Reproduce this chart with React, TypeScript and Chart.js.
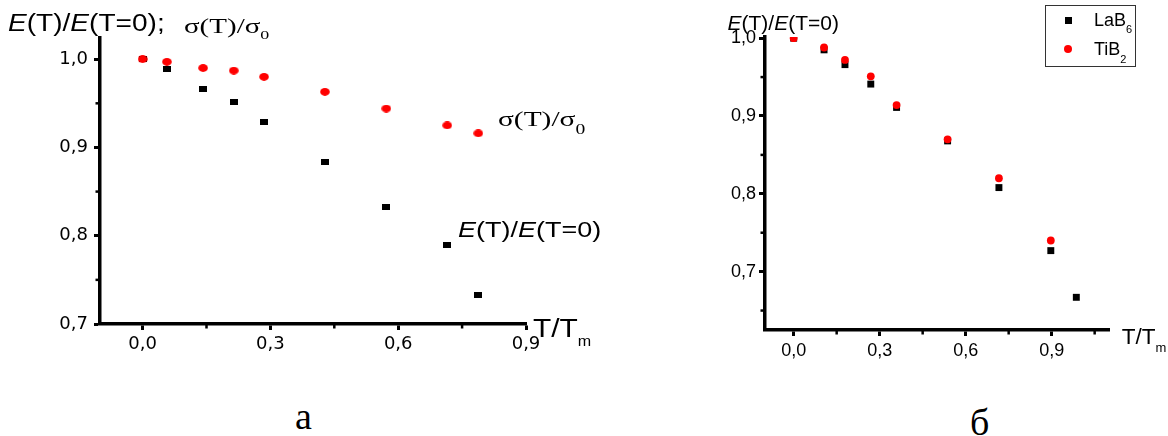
import React, { useEffect, useRef } from "react";
import { Chart, registerables } from "chart.js";

Chart.register(...registerables);

// ---------- Panel (а) data ----------
const tA = [0, 0.057, 0.142, 0.214, 0.285, 0.428, 0.572, 0.715, 0.788];
const sigmaA = [1.0, 0.997, 0.99, 0.987, 0.98, 0.963, 0.944, 0.925, 0.916];
const elastA = [1.0, 0.989, 0.966, 0.951, 0.929, 0.883, 0.833, 0.79, 0.733];
const xTicksA = [0, 0.3, 0.6, 0.9];
const xMinorA = [0.15, 0.45, 0.75];
const yTicksA = [0.7, 0.8, 0.9, 1.0];
const yMinorA = [0.75, 0.85, 0.95];

// ---------- Panel (б) data ----------
const tLaB6 = [0, 0.106, 0.179, 0.269, 0.359, 0.537, 0.716, 0.897, 0.986];
const eLaB6 = [1.0, 0.985, 0.966, 0.941, 0.911, 0.868, 0.808, 0.727, 0.667];
const tTiB2 = [0, 0.106, 0.179, 0.269, 0.359, 0.537, 0.716, 0.897];
const eTiB2 = [1.0, 0.988, 0.972, 0.951, 0.914, 0.87, 0.82, 0.74];
const xTicksB = [0, 0.3, 0.6, 0.9];
const xMinorB = [0.15, 0.45, 0.75, 1.05];
const yTicksB = [0.7, 0.8, 0.9, 1.0];
const yMinorB = [0.65, 0.75, 0.85, 0.95];

const SANS = '"Liberation Sans", Arial, sans-serif';
const SERIF = '"Liberation Serif", "Times New Roman", serif';
const RED = "#ff0000";

const fmt = (v: any) => Number(v).toFixed(1).replace(".", ",");

function pts(xs: number[], ys: number[]) {
  return xs.map((x, i) => ({ x, y: ys[i] }));
}

function minorPlugin(xs: number[], ys: number[]) {
  return {
    id: "minorTicks",
    afterDraw(chart: any) {
      const ctx = chart.ctx;
      const a = chart.chartArea;
      const sx = chart.scales.x;
      const sy = chart.scales.y;
      ctx.save();
      ctx.strokeStyle = "#000";
      ctx.lineWidth = 2.5;
      xs.forEach((v) => {
        const px = sx.getPixelForValue(v);
        ctx.beginPath();
        ctx.moveTo(px, a.bottom);
        ctx.lineTo(px, a.bottom + 4.5);
        ctx.stroke();
      });
      ys.forEach((v) => {
        const py = sy.getPixelForValue(v);
        ctx.beginPath();
        ctx.moveTo(a.left, py);
        ctx.lineTo(a.left - 4.5, py);
        ctx.stroke();
      });
      ctx.restore();
    },
  };
}

function makeImg(w: number, h: number, draw: (c: CanvasRenderingContext2D) => void) {
  const c = document.createElement("canvas");
  c.width = w;
  c.height = h;
  const g = c.getContext("2d")!;
  draw(g);
  return c;
}

function axis(min: number, max: number, ticks: number[], fit: (s: any) => void, fontFamily: string, fontSize: number, padding: number) {
  return {
    type: "linear" as const,
    min,
    max,
    afterBuildTicks: (s: any) => {
      s.ticks = ticks.map((v) => ({ value: v }));
    },
    afterFit: fit,
    border: { display: true, width: 3.5, color: "#000" },
    grid: {
      display: true,
      drawOnChartArea: false,
      drawTicks: true,
      tickLength: 6,
      tickWidth: 3,
      tickColor: "#000",
    },
    ticks: {
      color: "#000",
      font: { family: fontFamily, size: fontSize },
      padding,
      callback: fmt,
    },
  };
}

function Txt(props: any) {
  const { x, base, size, fam, sx = 1, children } = props;
  return (
    <div
      style={{
        position: "absolute",
        left: x,
        top: base - size * 0.85,
        fontSize: size,
        lineHeight: `${size}px`,
        fontFamily: fam,
        whiteSpace: "nowrap",
        transform: `scaleX(${sx})`,
        transformOrigin: "0 0",
        color: "#000",
      }}
    >
      {children}
    </div>
  );
}

function Sub(props: any) {
  return (
    <span style={{ fontSize: props.size, position: "relative", top: props.dy }}>{props.children}</span>
  );
}

export default function App() {
  const refA = useRef<HTMLCanvasElement>(null);
  const refB = useRef<HTMLCanvasElement>(null);

  useEffect(() => {
    const ellipse = makeImg(10, 8, (g) => {
      g.fillStyle = RED;
      g.beginPath();
      g.ellipse(5, 4, 4.8, 3.9, 0, 0, Math.PI * 2);
      g.fill();
    });
    const rectImg = makeImg(8, 6, (g) => {
      g.fillStyle = "#000";
      g.fillRect(0, 0, 8, 6);
    });

    const chartA = new Chart(refA.current!, {
      type: "scatter",
      data: {
        datasets: [
          {
            label: "σ(T)/σ0",
            data: pts(tA, sigmaA),
            pointStyle: ellipse as any,
            backgroundColor: RED,
            borderWidth: 0,
          },
          {
            label: "E(T)/E(T=0)",
            data: pts(tA, elastA),
            pointStyle: rectImg as any,
            backgroundColor: "#000",
            borderWidth: 0,
          },
        ],
      },
      options: {
        responsive: false,
        animation: false,
        devicePixelRatio: 1,
        layout: { padding: { top: 38, right: 600 - 526, left: 0, bottom: 0 } },
        plugins: { legend: { display: false }, tooltip: { enabled: false } },
        scales: {
          x: axis(-0.1, 0.9, xTicksA, (s: any) => { s.height = 380 - 324; }, '"DejaVu Sans", sans-serif', 18, 4),
          y: axis(0.7, 1.024, yTicksA, (s: any) => { s.width = 100; }, '"DejaVu Sans", sans-serif', 18, 6),
        },
      } as any,
      plugins: [minorPlugin(xMinorA, yMinorA)],
    });

    const chartB = new Chart(refB.current!, {
      type: "scatter",
      data: {
        datasets: [
          {
            label: "TiB2",
            data: pts(tTiB2, eTiB2),
            pointStyle: "circle",
            radius: 3.9,
            backgroundColor: RED,
            borderWidth: 0,
            clip: 0,
          },
          {
            label: "LaB6",
            data: pts(tLaB6, eLaB6),
            pointStyle: "rect",
            radius: 4.9,
            backgroundColor: "#000",
            borderWidth: 0,
            clip: 0,
          },
        ],
      },
      options: {
        responsive: false,
        animation: false,
        devicePixelRatio: 1,
        layout: { padding: { top: 37, right: 1168 - 1109, left: 0, bottom: 0 } },
        plugins: { legend: { display: false }, tooltip: { enabled: false } },
        scales: {
          x: axis(-0.1, 1.1, xTicksB, (s: any) => { s.height = 380 - 330; }, SANS, 18, 4),
          y: axis(0.625, 1.0015, yTicksB, (s: any) => { s.width = 165; }, SANS, 18, 3),
        },
      } as any,
      plugins: [minorPlugin(xMinorB, yMinorB)],
    });

    return () => {
      chartA.destroy();
      chartB.destroy();
    };
  }, []);

  return (
    <div style={{ position: "absolute", left: 0, top: 0, width: 1168, height: 436, background: "#fff", overflow: "hidden" }}>
      <canvas ref={refA} width={600} height={380} style={{ position: "absolute", left: 0, top: 0 }} />
      <canvas ref={refB} width={568} height={380} style={{ position: "absolute", left: 600, top: 0 }} />

      {/* Panel а texts */}
      <Txt x={8} base={31.7} size={23} fam={SANS} sx={1.22}>
        <i>E</i>(T)/<i>E</i>(T=0);
      </Txt>
      <Txt x={184} base={33.5} size={21} fam={SERIF} sx={1.38}>
        σ(T)/σ<Sub size={13} dy={6}>0</Sub>
      </Txt>
      <Txt x={498} base={127} size={21} fam={SERIF} sx={1.4}>
        σ(T)/σ<Sub size={14} dy={8}>0</Sub>
      </Txt>
      <Txt x={458} base={238.3} size={22.3} fam={SANS} sx={1.21}>
        <i>E</i>(T)/<i>E</i>(T=0)
      </Txt>
      <Txt x={533} base={336.7} size={26} fam={SANS} sx={1.15}>
        T/T<Sub size={14} dy={9}>m</Sub>
      </Txt>

      {/* Panel б texts */}
      <Txt x={727.5} base={30} size={21} fam={SANS}>
        <i>E</i>(T)/<i>E</i>(T=0)
      </Txt>
      <Txt x={1121.7} base={345} size={22.5} fam={SANS}>
        T/T<Sub size={13} dy={8}>m</Sub>
      </Txt>

      {/* Legend */}
      <div style={{ position: "absolute", left: 1045, top: 5, width: 89, height: 60, border: "1.5px solid #333" }} />
      <div style={{ position: "absolute", left: 1064.8, top: 16.5, width: 7, height: 7, background: "#000" }} />
      <div style={{ position: "absolute", left: 1064.3, top: 45, width: 8, height: 8, borderRadius: "50%", background: RED }} />
      <Txt x={1094} base={26.7} size={18} fam={SANS}>
        LaB<Sub size={11} dy={6.5}>6</Sub>
      </Txt>
      <Txt x={1094} base={55} size={18} fam={SANS}>
        TiB<Sub size={11} dy={8}>2</Sub>
      </Txt>

      {/* Captions */}
      <Txt x={295} base={429} size={38} fam={SERIF}>
        а
      </Txt>
      <Txt x={970} base={435} size={38} fam={SERIF}>
        б
      </Txt>
    </div>
  );
}
